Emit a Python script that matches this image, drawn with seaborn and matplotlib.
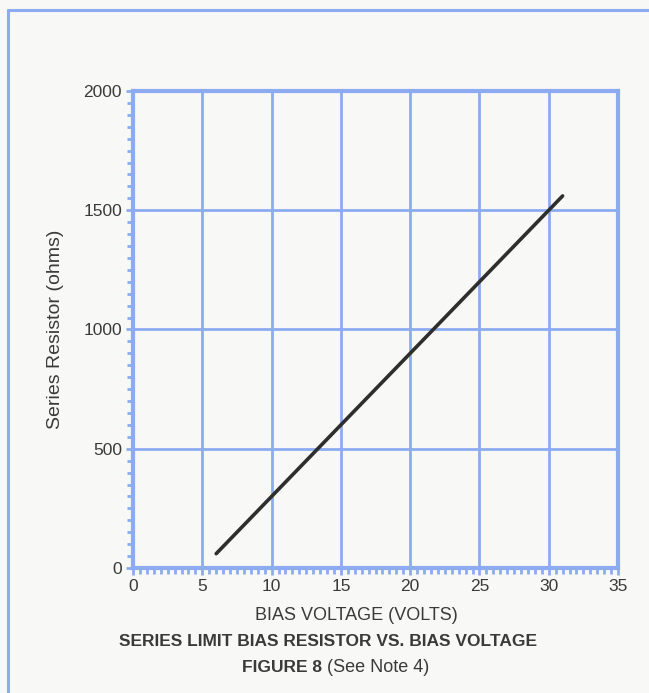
import matplotlib
matplotlib.use("Agg")
import matplotlib.pyplot as plt
from matplotlib.ticker import MultipleLocator
from matplotlib.lines import Line2D
import seaborn as sns
import pandas as pd

# Data
bias_voltage = [6, 31]
series_resistor = [60, 1560]
x_ticks = [0, 5, 10, 15, 20, 25, 30, 35]
y_ticks = [0, 500, 1000, 1500, 2000]

sns.set_style("white")
FONT = ['Liberation Sans Narrow', 'Liberation Sans', 'DejaVu Sans']
plt.rcParams['font.family'] = FONT

BLUE = "#8cabf0"
TXT = "#3a3a3a"
BG = "#f8f8f6"

fig = plt.figure(figsize=(6.49, 6.93), dpi=100, facecolor=BG)
ax = fig.add_axes([0.205, 0.1804, 0.7473, 0.6883])
ax.set_facecolor(BG)

df = pd.DataFrame({"V": bias_voltage, "R": series_resistor})
sns.lineplot(data=df, x="V", y="R", ax=ax, color="#2e2e2e", linewidth=2.6)

ax.set_xlim(0, 35)
ax.set_ylim(0, 2000)
ax.set_xticks(x_ticks)
ax.set_yticks(y_ticks)
ax.xaxis.set_minor_locator(MultipleLocator(0.5))
ax.yaxis.set_minor_locator(MultipleLocator(50))
ax.grid(True, which="major", color=BLUE, linewidth=2.0)
ax.set_axisbelow(True)
for s in ax.spines.values():
    s.set_color(BLUE)
    s.set_linewidth(3.0)
ax.tick_params(which="both", direction="out", color=BLUE, width=2.0)
ax.tick_params(which="major", length=5, labelsize=12.5, labelcolor=TXT, pad=3)
ax.tick_params(which="minor", length=4)
ax.tick_params(axis="both", which="both", top=False, right=False, bottom=True, left=True)

ax.set_xlabel("")
ax.set_ylabel("Series Resistor (ohms)", fontsize=14, color=TXT)
ax.yaxis.set_label_coords(-0.142, 0.5)

fig.text(356 / 649, 1 - 615 / 693, "BIAS VOLTAGE (VOLTS)", ha="center", va="center",
         fontsize=13, color=TXT)
fig.text(328 / 649, 1 - 642 / 693, "SERIES LIMIT BIAS RESISTOR VS. BIAS VOLTAGE",
         ha="center", va="center", fontsize=12.5, fontweight="bold", color=TXT)
fig.text(327 / 649, 1 - 667 / 693, "FIGURE 8 ", ha="right", va="center",
         fontsize=12.5, fontweight="bold", color=TXT)
fig.text(327 / 649, 1 - 667 / 693, "(See Note 4)", ha="left", va="center",
         fontsize=13, color=TXT)

# frame at top and left of the page
fig.add_artist(Line2D([8 / 649, 1.0], [1 - 10 / 693, 1 - 10 / 693], color=BLUE,
                      linewidth=2.2, transform=fig.transFigure))
fig.add_artist(Line2D([8 / 649, 8 / 649], [0, 1 - 10 / 693], color=BLUE,
                      linewidth=2.2, transform=fig.transFigure))

fig.savefig("out.png", dpi=100, facecolor=BG)
